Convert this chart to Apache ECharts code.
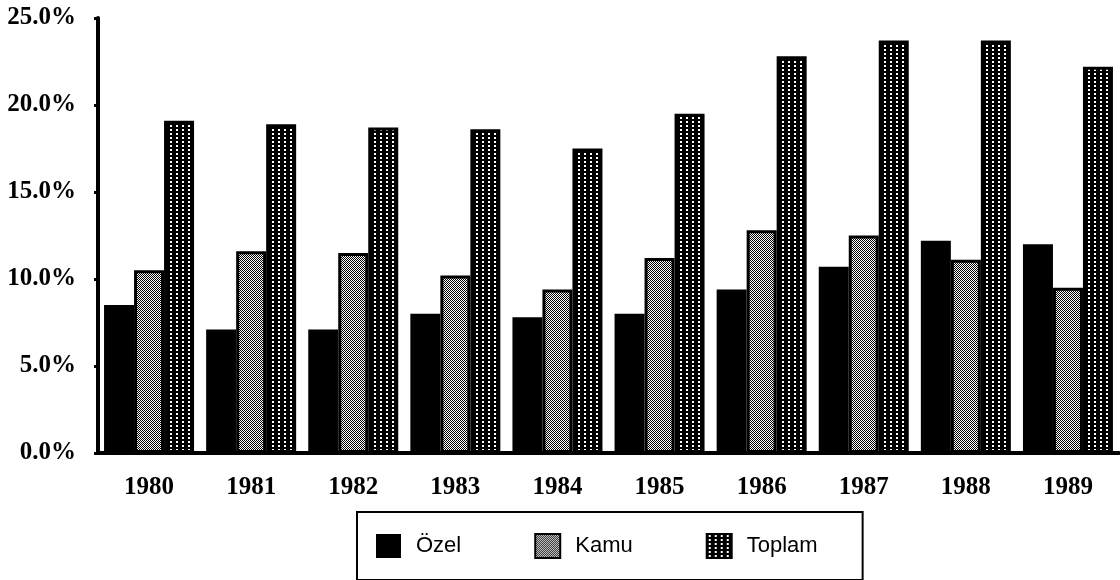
<!DOCTYPE html>
<html>
<head>
<meta charset="utf-8">
<script src="https://cdn.jsdelivr.net/npm/echarts@6/dist/echarts.min.js"></script>
<style>
  html, body { margin: 0; padding: 0; background: #fff; }
  #chart { width: 1120px; height: 580px; }
</style>
</head>
<body>
<div id="chart"></div>
<script>
// yıllar ve seriler (%)
const years = ['1980', '1981', '1982', '1983', '1984', '1985', '1986', '1987', '1988', '1989'];
const ozel = [8.5, 7.1, 7.1, 8.0, 7.8, 8.0, 9.4, 10.7, 12.2, 12.0];
const kamu = [10.5, 11.6, 11.5, 10.2, 9.4, 11.2, 12.8, 12.5, 11.1, 9.5];
const toplam = [19.1, 18.9, 18.7, 18.6, 17.5, 19.5, 22.8, 23.7, 23.7, 22.2];
const seriesNames = ['Özel', 'Kamu', 'Toplam'];

// küçük desen kanvasları
function makePattern(w, h, draw) {
    const c = document.createElement('canvas');
    c.width = w;
    c.height = h;
    draw(c.getContext('2d'));
    return c;
}

// Kamu: ince dama deseni
const kamuPattern = makePattern(2, 2, function(ctx) {
    ctx.fillStyle = '#fff';
    ctx.fillRect(0, 0, 2, 2);
    ctx.fillStyle = '#000';
    ctx.fillRect(0, 0, 1, 1);
    ctx.fillRect(1, 1, 1, 1);
});

// Toplam: siyah zemin üzerinde beyaz noktalar
const toplamPattern = makePattern(6, 4, function(ctx) {
    ctx.fillStyle = '#000';
    ctx.fillRect(0, 0, 6, 4);
    ctx.fillStyle = '#fff';
    ctx.fillRect(2, 1, 2, 2);
});

const chart = echarts.init(document.getElementById('chart'));

const serifBold = {
    fontFamily: '"Liberation Serif", "Times New Roman", serif',
    fontWeight: 'bold',
    fontSize: 25,
    color: '#000'
};

const option = {
    animation: false,
    grid: { left: 98, right: 1, top: 18, bottom: 127 },
    legend: {
        data: seriesNames,
        left: 357,
        top: 512,
        orient: 'horizontal',
        borderColor: '#000',
        borderWidth: 2,
        padding: [21, 45, 21, 19],
        itemWidth: 25,
        itemHeight: 24,
        itemGap: 73,
        icon: 'rect',
        textStyle: {
            fontFamily: '"Liberation Sans", Arial, sans-serif',
            fontSize: 22,
            color: '#000',
            padding: [0, 0, 0, 10]
        }
    },
    xAxis: {
        type: 'category',
        data: years,
        axisLine: { lineStyle: { color: '#000', width: 4 } },
        axisTick: { alignWithLabel: true, length: 6, lineStyle: { color: '#000', width: 4 } },
        axisLabel: Object.assign({ margin: 22 }, serifBold),
        splitLine: { show: false }
    },
    yAxis: {
        type: 'value',
        min: 0,
        max: 25,
        interval: 5,
        axisLine: { show: true, lineStyle: { color: '#000', width: 4 } },
        axisTick: { show: true, length: 4, lineStyle: { color: '#000', width: 3 } },
        axisLabel: Object.assign({
            margin: 22,
            formatter: function(v) { return v.toFixed(1) + '%'; }
        }, serifBold),
        splitLine: { show: false }
    },
    series: [
        {
            name: 'Özel',
            type: 'bar',
            data: ozel,
            barWidth: 30,
            barGap: '0%',
            itemStyle: { color: '#000', borderColor: '#000', borderWidth: 0 }
        },
        {
            name: 'Kamu',
            type: 'bar',
            data: kamu,
            barWidth: 30,
            barGap: '0%',
            itemStyle: {
                color: { image: kamuPattern, repeat: 'repeat' },
                borderColor: '#000',
                borderWidth: 3
            }
        },
        {
            name: 'Toplam',
            type: 'bar',
            data: toplam,
            barWidth: 30,
            barGap: '0%',
            itemStyle: {
                color: { image: toplamPattern, repeat: 'repeat' },
                borderColor: '#000',
                borderWidth: 3
            }
        }
    ]
};

chart.setOption(option);

window.addEventListener('resize', function() {
    chart.resize();
});
</script>
</body>
</html>
